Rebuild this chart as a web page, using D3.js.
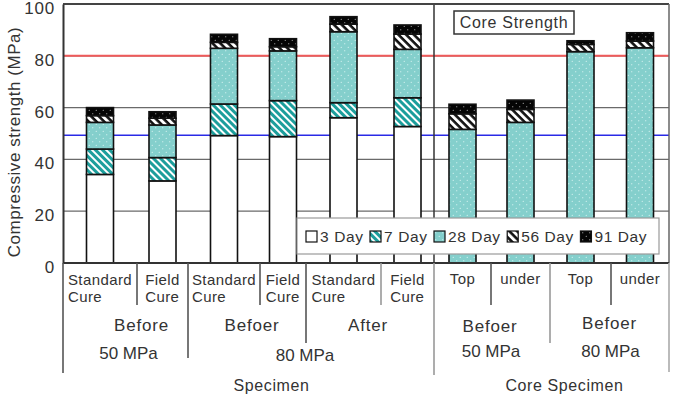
<!DOCTYPE html>
<html><head><meta charset="utf-8">
<script src="https://cdn.jsdelivr.net/npm/d3@7"></script>
<style>
html,body{margin:0;padding:0;background:#fff;}
svg{display:block;font-family:"Liberation Sans",Arial,sans-serif;}
</style></head><body>
<svg id="chart" width="674" height="396"></svg>
<script>
// ---------- DATA ----------
const categories = ["std50", "field50", "std80b", "field80b", "std80a", "field80a", "top50", "under50", "top80", "under80"];
const catLabels = [["Standard","Cure"],["Field","Cure"],["Standard","Cure"],["Field","Cure"],["Standard","Cure"],["Field","Cure"],["Top"],["under"],["Top"],["under"]];
const ages = ["3 Day", "7 Day", "28 Day", "56 Day", "91 Day"];
// strength reached at each age (MPa)
const day3  = [34.2, 31.7, 49.2, 48.8, 56.1, 52.7, 0, 0, 0, 0];
const day7  = [44.0, 40.7, 61.4, 62.7, 61.9, 63.8, 0, 0, 0, 0];
const day28 = [54.3, 53.3, 82.9, 81.9, 89.3, 82.5, 51.6, 54.3, 81.6, 83.1];
const day56 = [56.9, 55.9, 85.2, 83.5, 92.2, 88.4, 57.6, 59.3, 84.4, 85.7];
const day91 = [60.0, 58.4, 88.3, 86.6, 95.1, 91.9, 61.3, 62.9, 85.8, 88.9];
const condLabels = ["Before", "Befoer", "After", "Befoer", "Befoer"];
const condSpans = [[0,2],[2,4],[4,6],[6,8],[8,10]];
const targetLabels = ["50 MPa", "80 MPa", "50 MPa", "80 MPa"];
const targetSpans = [[0,2],[2,6],[6,8],[8,10]];
const typeLabels = ["Specimen", "Core Specimen"];
const typeSpans = [[0,6],[6,10]];
const yTicks = [0, 20, 40, 60, 80, 100];
const refValues = [80, 49.3];
const yTitle = "Compressive strength (MPa)";
const noteText = "Core Strength";

// ---------- LAYOUT ----------
const W = 674, H = 396;
const plot = {left: 63, right: 669, top: 4, bottom: 263};
const colEdges = [63, 137, 188, 260, 306, 381, 434, 491, 550, 611, 669];
const barW = 27;
const ink = "#333";

const svg = d3.select("#chart");
const defs = svg.append("defs");

// patterns
function stripe(id, bg, fg, size, thick) {
  const p = defs.append("pattern").attr("id", id).attr("patternUnits", "userSpaceOnUse")
    .attr("width", size).attr("height", size).attr("patternTransform", "rotate(45)");
  p.append("rect").attr("width", size).attr("height", size).attr("fill", bg);
  p.append("rect").attr("width", size).attr("height", thick).attr("fill", fg);
}
function dots(id, bg, fg, size, r) {
  const p = defs.append("pattern").attr("id", id).attr("patternUnits", "userSpaceOnUse")
    .attr("width", size).attr("height", size);
  p.append("rect").attr("width", size).attr("height", size).attr("fill", bg);
  p.append("circle").attr("cx", size*0.25).attr("cy", size*0.25).attr("r", r).attr("fill", fg);
  p.append("circle").attr("cx", size*0.75).attr("cy", size*0.75).attr("r", r).attr("fill", fg);
}
stripe("p7", "#1c9e9c", "#ffffff", 5, 2);
dots("p28", "#84cfcc", "#e8fbfa", 7, 0.6);
stripe("p56", "#ffffff", "#111111", 5.5, 2.6);
dots("p91", "#050505", "#cfcfcf", 7, 0.55);
const fills = {"3 Day": "#ffffff", "7 Day": "url(#p7)", "28 Day": "url(#p28)", "56 Day": "url(#p56)", "91 Day": "url(#p91)"};

// scales
const centers = categories.map((c, i) => (colEdges[i] + colEdges[i+1]) / 2);
const x = d3.scaleOrdinal().domain(categories).range(centers);
const y = d3.scaleLinear().domain([0, 100]).range([plot.bottom, plot.top]);

svg.append("rect").attr("width", W).attr("height", H).attr("fill", "#fff");

// gridlines
svg.append("g").selectAll("line").data(yTicks.filter(t => t > 0 && t < 100)).join("line")
  .attr("x1", plot.left).attr("x2", plot.right)
  .attr("y1", d => y(d)).attr("y2", d => y(d))
  .attr("stroke", "#6a6a6a").attr("stroke-width", 1.3);

// reference lines
svg.append("g").selectAll("line").data(refValues).join("line")
  .attr("x1", plot.left).attr("x2", plot.right)
  .attr("y1", d => y(d)).attr("y2", d => y(d))
  .attr("stroke", (d, i) => i === 0 ? "#f05a5a" : "#2a2ae6")
  .attr("stroke-width", (d, i) => i === 0 ? 2 : 1.6);

// stacked bars
const rows = categories.map((c, i) => ({
  cat: c,
  "3 Day": day3[i],
  "7 Day": day7[i] - day3[i],
  "28 Day": day28[i] - day7[i],
  "56 Day": day56[i] - day28[i],
  "91 Day": day91[i] - day56[i]
}));
const series = d3.stack().keys(ages)(rows);
const gBars = svg.append("g");
series.forEach(s => {
  gBars.append("g").selectAll("rect")
    .data(s.filter(d => d[1] - d[0] > 0.01))
    .join("rect")
    .attr("x", d => x(d.data.cat) - barW / 2)
    .attr("width", barW)
    .attr("y", d => y(d[1]))
    .attr("height", d => y(d[0]) - y(d[1]))
    .attr("fill", fills[s.key])
    .attr("stroke", "#111").attr("stroke-width", 1.6);
});

// divider between specimen and core
svg.append("line").attr("x1", colEdges[6]).attr("x2", colEdges[6])
  .attr("y1", plot.top).attr("y2", plot.bottom).attr("stroke", ink).attr("stroke-width", 1.5);

// frame
svg.append("line").attr("x1", plot.left).attr("x2", plot.right).attr("y1", plot.top).attr("y2", plot.top)
  .attr("stroke", "#444").attr("stroke-width", 2);
svg.append("line").attr("x1", plot.right).attr("x2", plot.right).attr("y1", plot.top).attr("y2", plot.bottom)
  .attr("stroke", "#666").attr("stroke-width", 1.5);
svg.append("line").attr("x1", plot.left).attr("x2", plot.right).attr("y1", plot.bottom).attr("y2", plot.bottom)
  .attr("stroke", "#333").attr("stroke-width", 2);

// y axis
const yAxis = d3.axisLeft(y).tickValues(yTicks).tickSize(0).tickPadding(0);
const gy = svg.append("g").attr("transform", `translate(${plot.left},0)`).call(yAxis);
gy.select(".domain").attr("stroke", "#333").attr("stroke-width", 2);
gy.selectAll("text").attr("x", -8).attr("dy", "0.62em").attr("font-size", 17)
  .attr("letter-spacing", "0.8px").attr("fill", ink)
  .attr("font-family", "Liberation Sans, Arial, sans-serif")
  .attr("transform", "translate(0,-1)");

svg.append("text").attr("transform", "translate(14,142) rotate(-90)")
  .attr("text-anchor", "middle").attr("dominant-baseline", "central")
  .attr("font-size", 17).attr("letter-spacing", "0.55px").attr("fill", ink).text(yTitle);

// Core Strength note
const note = svg.append("g");
note.append("rect").attr("x", 454).attr("y", 11).attr("width", 120).attr("height", 23)
  .attr("fill", "#fff").attr("stroke", "#333").attr("stroke-width", 1.5);
note.append("text").attr("x", 514).attr("y", 28).attr("text-anchor", "middle")
  .attr("font-size", 16).attr("letter-spacing", "0.7px").attr("fill", ink).text(noteText);

// legend
const lg = svg.append("g");
lg.append("rect").attr("x", 297).attr("y", 218).attr("width", 362).attr("height", 36)
  .attr("fill", "#fff").attr("stroke", "#9a9a9a").attr("stroke-width", 1.2);
let lx = 306;
ages.forEach(a => {
  lg.append("rect").attr("x", lx).attr("y", 231).attr("width", 11).attr("height", 11)
    .attr("fill", fills[a]).attr("stroke", "#111").attr("stroke-width", 1.2);
  const t = lg.append("text").attr("x", lx + 14).attr("y", 242).attr("font-size", 15.5)
    .attr("letter-spacing", "0.6px").attr("fill", ink).text(a);
  lx += 14 + t.node().getComputedTextLength() + 6.5;
});

// ---------- category table below the axis ----------
const tbl = svg.append("g");
const tableLines = [
  {e: 0, y2: 373, c: "#555"},
  {e: 1, y2: 305, c: "#555"}, {e: 3, y2: 305, c: "#555"}, {e: 5, y2: 305, c: "#999"},
  {e: 7, y2: 305, c: "#555"}, {e: 9, y2: 305, c: "#555"},
  {e: 2, y2: 358, c: "#555"}, {e: 4, y2: 343, c: "#555"}, {e: 8, y2: 343, c: "#999"},
  {e: 6, y2: 375, c: "#999"}, {e: 10, y2: 372, c: "#aaa"}
];
tbl.selectAll("line").data(tableLines).join("line")
  .attr("x1", d => colEdges[d.e]).attr("x2", d => colEdges[d.e])
  .attr("y1", plot.bottom).attr("y2", d => d.y2)
  .attr("stroke", d => d.c).attr("stroke-width", 1.6);

// row 1 : category names (two-line block, left-aligned, centered in column)
categories.forEach((c, i) => {
  const lines = catLabels[i];
  const t = tbl.append("text").attr("font-size", 15).attr("letter-spacing", "0.4px").attr("fill", ink);
  const oneLine = lines.length === 1;
  lines.forEach((s, k) => t.append("tspan").attr("x", 0).attr("y", oneLine ? 284 : 285 + k * 17).text(s));
  const w = d3.max(t.selectAll("tspan").nodes(), n => n.getComputedTextLength());
  t.selectAll("tspan").attr("x", x(c) - w / 2);
});

function spanCenter(sp) { return (colEdges[sp[0]] + colEdges[sp[1]]) / 2; }
const condDx = [16, 5, -2, -2, 0];
const condY = [331, 331, 331, 332, 329];
condLabels.forEach((s, i) => {
  tbl.append("text").attr("x", spanCenter(condSpans[i]) + condDx[i]).attr("y", condY[i])
    .attr("text-anchor", "middle").attr("font-size", 17).attr("letter-spacing", "0.8px")
    .attr("fill", ink).text(s);
});
const targDx = [3, -6, -1, 1];
const targY = [359, 361, 357, 357];
targetLabels.forEach((s, i) => {
  tbl.append("text").attr("x", spanCenter(targetSpans[i]) + targDx[i]).attr("y", targY[i])
    .attr("text-anchor", "middle").attr("font-size", 17).attr("letter-spacing", "0px")
    .attr("fill", ink).text(s);
});
const typeDx = [23, 13];
typeLabels.forEach((s, i) => {
  tbl.append("text").attr("x", spanCenter(typeSpans[i]) + typeDx[i]).attr("y", 391)
    .attr("text-anchor", "middle").attr("font-size", 16).attr("letter-spacing", "0.6px")
    .attr("fill", ink).text(s);
});
</script>
</body></html>
